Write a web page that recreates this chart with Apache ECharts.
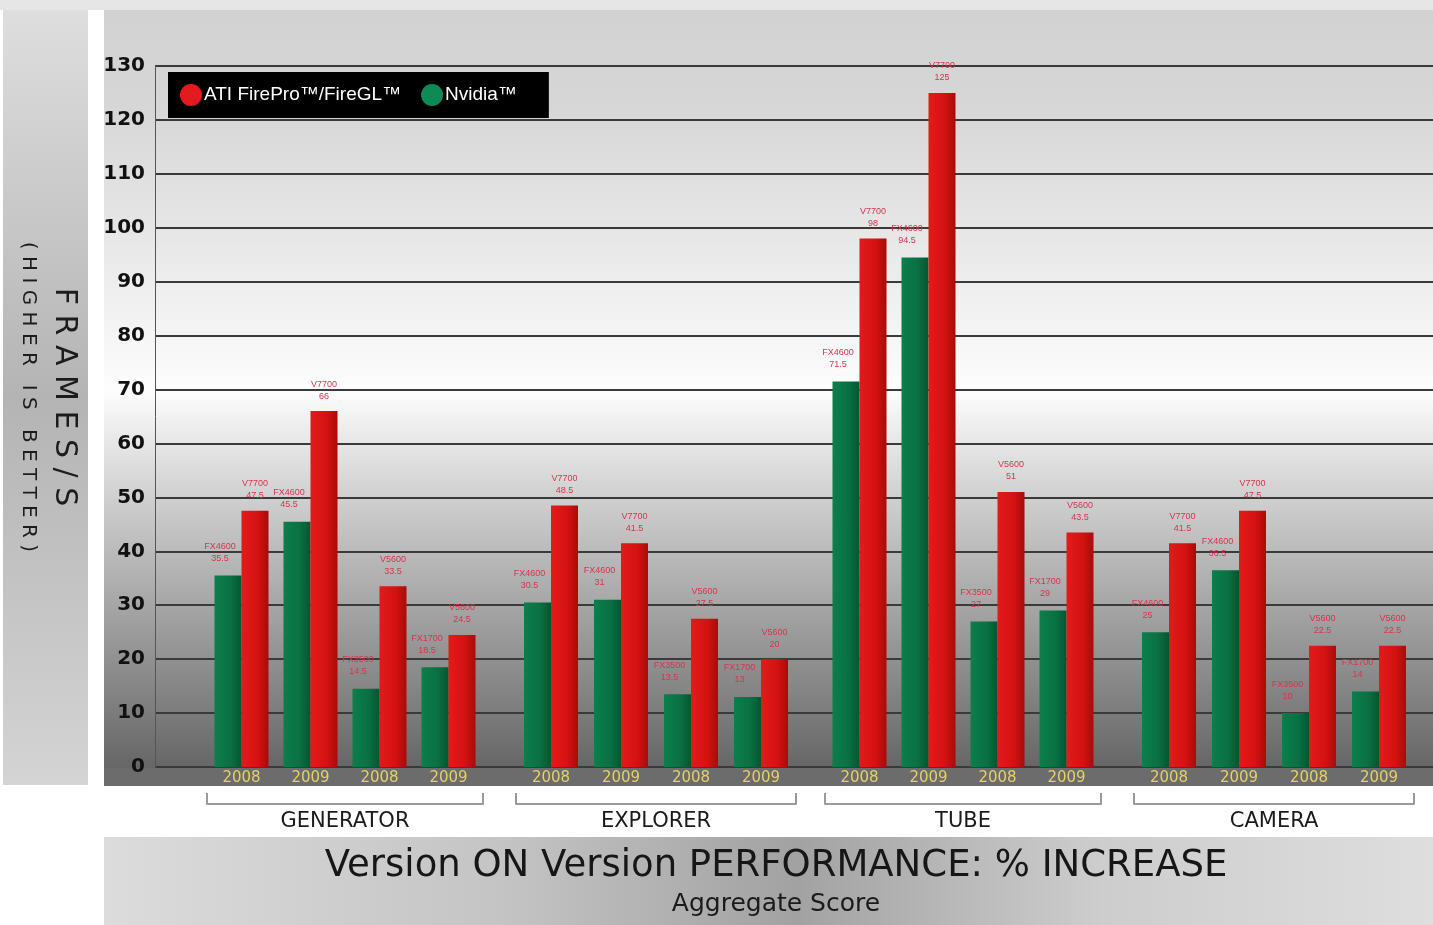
<!DOCTYPE html>
<html>
<head>
<meta charset="utf-8">
<script src="https://cdn.jsdelivr.net/npm/echarts@6/dist/echarts.min.js"></script>
<style>html,body{margin:0;padding:0;background:#fff;}#c{width:1433px;height:925px;}</style>
</head>
<body>
<div id="c"></div>
<script>
const categories = ['2008', '2009', '2008', '2009'];
const groups = ['GENERATOR', 'EXPLORER', 'TUBE', 'CAMERA'];
const nvidiaModels = ['FX4600', 'FX4600', 'FX3500', 'FX1700'];
const atiModels = ['V7700', 'V7700', 'V5600', 'V5600'];
const nvidiaGenerator = [35.5, 45.5, 14.5, 18.5];
const nvidiaExplorer = [30.5, 31, 13.5, 13];
const nvidiaTube = [71.5, 94.5, 27, 29];
const nvidiaCamera = [25, 36.5, 10, 14];
const atiGenerator = [47.5, 66, 33.5, 24.5];
const atiExplorer = [48.5, 41.5, 27.5, 20];
const atiTube = [98, 125, 51, 43.5];
const atiCamera = [41.5, 47.5, 22.5, 22.5];
const yMin = 0, yMax = 130, yStep = 10;
const atiName = 'ATI FirePro™/FireGL™';
const nvName = 'Nvidia™';

const nvidiaValues = [nvidiaGenerator, nvidiaExplorer, nvidiaTube, nvidiaCamera];
const atiValues = [atiGenerator, atiExplorer, atiTube, atiCamera];

// layout
const groupLeft = [207, 516, 825, 1134];
const groupWidth = [276, 280, 276, 280];
const gridTop = 66, gridBottom = 158;

const redFill = new echarts.graphic.LinearGradient(0, 0, 1, 0, [
  {offset: 0, color: '#e31a1a'}, {offset: 0.6, color: '#d41212'}, {offset: 1, color: '#a80b0b'}]);
const greenFill = new echarts.graphic.LinearGradient(0, 0, 1, 0, [
  {offset: 0, color: '#0c7e4c'}, {offset: 0.6, color: '#0a7043'}, {offset: 1, color: '#045631'}]);

const grids = [{left: 155, right: 0, top: gridTop, bottom: gridBottom}];
const xAxes = [{gridIndex: 0, type: 'category', data: [''], show: false}];
const yAxes = [{
  gridIndex: 0, type: 'value', min: yMin, max: yMax, interval: yStep,
  axisLine: {show: true, lineStyle: {color: '#555', width: 1}},
  axisTick: {show: false},
  splitLine: {lineStyle: {color: '#3a3a3a', width: 2}},
  axisLabel: {color: '#111', fontFamily: 'DejaVu Sans', fontWeight: 'bold', fontSize: 20, margin: 10}
}];
const series = [];
const labelFont = {fontFamily: 'Liberation Sans Narrow, Liberation Sans, sans-serif', fontSize: 9, lineHeight: 12, color: '#d8344e'};

groups.forEach((g, i) => {
  grids.push({left: groupLeft[i], width: groupWidth[i], top: gridTop, bottom: gridBottom});
  xAxes.push({
    gridIndex: i + 1, type: 'category', data: categories,
    axisLine: {show: false}, axisTick: {show: false},
    axisLabel: {color: '#e6d068', fontFamily: 'DejaVu Sans', fontSize: 15, margin: 4}
  });
  xAxes.push({
    gridIndex: i + 1, type: 'category', data: [g], position: 'bottom', offset: 37,
    axisLine: {show: true, lineStyle: {color: '#9a9a9a', width: 2}},
    axisTick: {show: true, inside: true, length: 11, lineStyle: {color: '#9a9a9a', width: 2}},
    axisLabel: {color: '#1a1a1a', fontFamily: 'DejaVu Sans', fontSize: 21, margin: 7}
  });
  yAxes.push({gridIndex: i + 1, type: 'value', min: yMin, max: yMax, interval: yStep, show: false, splitLine: {show: false}});
  series.push({
    type: 'bar', name: nvName, xAxisIndex: 1 + 2 * i, yAxisIndex: i + 1,
    data: nvidiaValues[i], barWidth: 27, barGap: '0%',
    itemStyle: {color: greenFill},
    label: Object.assign({show: true, position: 'top', offset: [-8, -6],
      formatter: p => nvidiaModels[p.dataIndex] + '\n' + p.value}, labelFont)
  });
  series.push({
    type: 'bar', name: atiName, xAxisIndex: 1 + 2 * i, yAxisIndex: i + 1,
    data: atiValues[i], barWidth: 27, barGap: '0%',
    itemStyle: {color: redFill},
    label: Object.assign({show: true, position: 'top', offset: [0, -4],
      formatter: p => atiModels[p.dataIndex] + '\n' + p.value}, labelFont)
  });
});

const chart = echarts.init(document.getElementById('c'), null, {renderer: 'canvas'});
chart.setOption({
  animation: false,
  backgroundColor: '#ffffff',
  grid: grids,
  xAxis: xAxes,
  yAxis: yAxes,
  series: series,
  legend: {
    left: 168, top: 72, backgroundColor: '#000', padding: [12, 32, 12, 12],
    itemWidth: 22, itemHeight: 22, itemGap: 20, icon: 'circle',
    data: [{name: atiName, itemStyle: {color: '#e21b1f'}}, {name: nvName, itemStyle: {color: '#0e8a57'}}],
    textStyle: {color: '#fff', fontSize: 19, fontFamily: 'Liberation Sans, sans-serif', padding: [0, 0, 0, -3]},
    selectedMode: false
  },
  graphic: [
    {type: 'rect', z: -10, shape: {x: 0, y: 0, width: 1433, height: 10}, style: {fill: '#e6e6e6'}},
    {type: 'rect', z: -10, shape: {x: 3, y: 10, width: 85, height: 775},
      style: {fill: new echarts.graphic.LinearGradient(0, 0, 0, 1, [
        {offset: 0, color: '#dedede'}, {offset: 0.5, color: '#b4b4b4'}, {offset: 1, color: '#d4d4d4'}])}},
    {type: 'rect', z: -10, shape: {x: 104, y: 10, width: 1329, height: 776},
      style: {fill: new echarts.graphic.LinearGradient(0, 0, 0, 1, [
        {offset: 0, color: '#d2d2d2'}, {offset: 0.12, color: '#d6d6d6'}, {offset: 0.3, color: '#e8e8e8'},
        {offset: 0.49, color: '#fdfdfd'}, {offset: 0.62, color: '#d2d2d2'}, {offset: 0.8, color: '#9c9c9c'},
        {offset: 0.97, color: '#686868'}, {offset: 1, color: '#606060'}])}},
    {type: 'rect', z: -9, shape: {x: 104, y: 768, width: 1329, height: 18}, style: {fill: '#6c6c6c'}},
    {type: 'rect', z: -10, shape: {x: 104, y: 837, width: 1329, height: 88},
      style: {fill: new echarts.graphic.LinearGradient(0, 0, 1, 0, [
        {offset: 0, color: '#dcdcdc'}, {offset: 0.3, color: '#c4c4c4'}, {offset: 0.52, color: '#a2a2a2'},
        {offset: 0.75, color: '#cdcdcd'}, {offset: 1, color: '#dedede'}])}},
    {type: 'text', z: 5, x: 64, y: 397, rotation: -Math.PI / 2,
      style: {text: 'F R A M E S / S', fill: '#1c1c1c', font: '30px "DejaVu Sans"', textAlign: 'center', textVerticalAlign: 'middle'}},
    {type: 'text', z: 5, x: 28, y: 397, rotation: -Math.PI / 2,
      style: {text: '( H I G H E R   I S   B E T T E R )', fill: '#1c1c1c', font: '20px "DejaVu Sans"', textAlign: 'center', textVerticalAlign: 'middle'}},
    {type: 'text', z: 5, x: 776, y: 866,
      style: {text: 'Version ON Version PERFORMANCE: % INCREASE', fill: '#161616', font: '37px "DejaVu Sans"',
        textAlign: 'center', textVerticalAlign: 'middle'}},
    {type: 'text', z: 5, x: 776, y: 904,
      style: {text: 'Aggregate Score', fill: '#1a1a1a', font: '25px "DejaVu Sans"', textAlign: 'center', textVerticalAlign: 'middle'}}
  ]
});
</script>
</body>
</html>
